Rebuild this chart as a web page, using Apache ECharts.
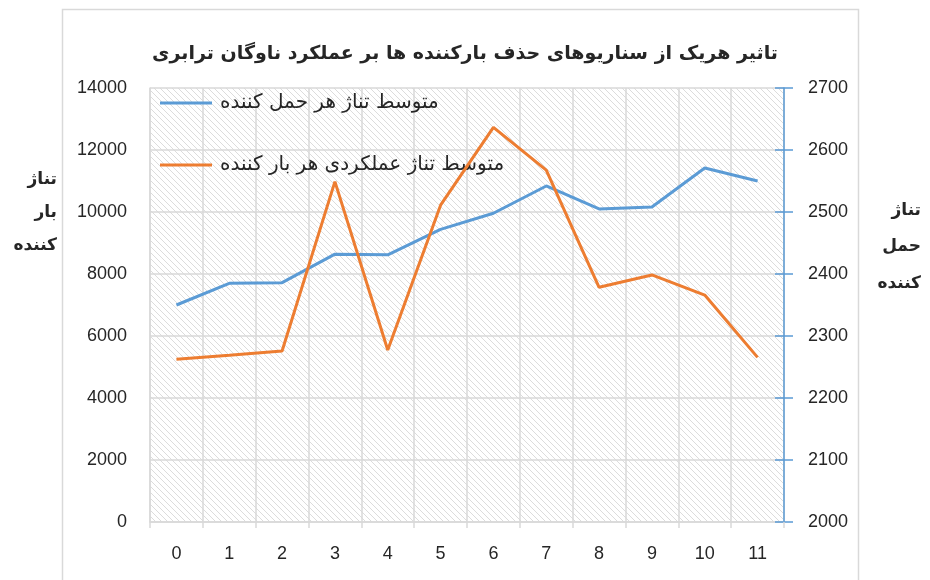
<!DOCTYPE html>
<html>
<head>
<meta charset="utf-8">
<script src="https://cdn.jsdelivr.net/npm/echarts@6/dist/echarts.min.js"></script>
<style>
  html, body { margin: 0; padding: 0; background: #fff; }
  #chart { width: 930px; height: 580px; }
</style>
</head>
<body>
<div id="chart"></div>
<script>
const categories = ['0', '1', '2', '3', '4', '5', '6', '7', '8', '9', '10', '11']
// متوسط تناژ هر حمل کننده (محور راست)
const perHaulerValues = [2350, 2385, 2386, 2432, 2431, 2472, 2498, 2542, 2505, 2508, 2571, 2550]
// متوسط تناژ عملکردی هر بار کننده (محور چپ)
const perLoaderValues = [5250, 5380, 5516, 10980, 5550, 10220, 12730, 11350, 7570, 7970, 7320, 5310]

const titleText = 'تاثیر هریک از سناریوهای حذف بارکننده ها بر عملکرد ناوگان ترابری'
const haulerName = 'متوسط تناژ هر حمل کننده'
const loaderName = 'متوسط تناژ عملکردی هر بار کننده'
const leftAxisName = 'تناژ\nبار\nکننده'
const rightAxisName = 'تناژ\nحمل\nکننده'

const blue = '#5b9bd5'
const orange = '#ed7d31'
const gridColor = '#d9d9d9'
const numFont = 'Liberation Sans'
const faFont = 'DejaVu Sans'

function makeHatch() {
  const size = 6
  const c = document.createElement('canvas')
  c.width = size
  c.height = size
  const ctx = c.getContext('2d')
  ctx.fillStyle = '#fff'
  ctx.fillRect(0, 0, size, size)
  ctx.strokeStyle = '#dcdcdc'
  ctx.lineWidth = 1
  ctx.beginPath()
  ctx.moveTo(-1, -1)
  ctx.lineTo(size + 1, size + 1)
  ctx.moveTo(-1, size - 1)
  ctx.lineTo(1, size + 1)
  ctx.moveTo(size - 1, -1)
  ctx.lineTo(size + 1, 1)
  ctx.stroke()
  return c
}

const plainNumber = (v) => String(v)

const chart = echarts.init(document.getElementById('chart'))

chart.setOption({
  animation: false,
  backgroundColor: '#fff',
  title: [
    {
      text: titleText,
      left: 'center',
      top: 40,
      textStyle: { fontFamily: faFont, fontSize: 19, fontWeight: 'bold', color: '#262626' }
    },
    {
      text: leftAxisName,
      left: 57,
      top: 163,
      padding: 0,
      textAlign: 'right',
      textStyle: { fontFamily: faFont, fontSize: 17, fontWeight: 'bold', color: '#262626', lineHeight: 33, align: 'right' }
    },
    {
      text: rightAxisName,
      left: 921,
      top: 192,
      padding: 0,
      textAlign: 'right',
      textStyle: { fontFamily: faFont, fontSize: 17, fontWeight: 'bold', color: '#262626', lineHeight: 36.5, align: 'right' }
    }
  ],
  graphic: [
    {
      type: 'rect',
      silent: true,
      shape: { x: 62.5, y: 9.5, width: 796, height: 600 },
      style: { fill: null, stroke: gridColor, lineWidth: 1.5 }
    }
  ],
  legend: {
    orient: 'vertical',
    left: 160,
    top: 93,
    padding: 0,
    icon: 'rect',
    itemWidth: 52,
    itemHeight: 3,
    itemGap: 42,
    textStyle: { fontFamily: faFont, fontSize: 20, color: '#262626', padding: [0, 0, 0, 3] },
    data: [haulerName, loaderName]
  },
  grid: {
    left: 150,
    right: 146,
    top: 88,
    bottom: 58,
    show: true,
    borderWidth: 0,
    backgroundColor: { image: makeHatch(), repeat: 'repeat' }
  },
  xAxis: {
    type: 'category',
    data: categories,
    boundaryGap: true,
    axisLine: { lineStyle: { color: gridColor, width: 1.5 } },
    axisTick: { show: true, length: 6, interval: 0, lineStyle: { color: gridColor, width: 1.5 } },
    axisLabel: { margin: 23, fontFamily: numFont, fontSize: 18, color: '#262626' },
    splitLine: { show: true, interval: 0, lineStyle: { color: gridColor, width: 1.5 } }
  },
  yAxis: [
    {
      type: 'value',
      position: 'left',
      min: 0,
      max: 14000,
      interval: 2000,
      axisLine: { show: true, lineStyle: { color: gridColor, width: 1.5 } },
      axisTick: { show: false },
      axisLabel: { margin: 23, fontFamily: numFont, fontSize: 18, color: '#262626', formatter: plainNumber },
      splitLine: { show: true, lineStyle: { color: gridColor, width: 1.5 } }
    },
    {
      type: 'value',
      position: 'right',
      min: 2000,
      max: 2700,
      interval: 100,
      axisLine: { show: true, lineStyle: { color: blue, width: 1.5 } },
      axisTick: { show: true, length: 9, lineStyle: { color: blue, width: 1.5 } },
      axisLabel: { margin: 24, fontFamily: numFont, fontSize: 18, color: '#262626', formatter: plainNumber },
      splitLine: { show: false }
    },
    {
      // inner half of the cross tick marks on the right axis
      type: 'value',
      position: 'right',
      min: 2000,
      max: 2700,
      interval: 100,
      axisLine: { show: false },
      axisTick: { show: true, inside: true, length: 9, lineStyle: { color: blue, width: 1.5 } },
      axisLabel: { show: false },
      splitLine: { show: false }
    }
  ],
  series: [
    {
      name: haulerName,
      type: 'line',
      yAxisIndex: 1,
      data: perHaulerValues,
      symbol: 'none',
      itemStyle: { color: blue },
      lineStyle: { color: blue, width: 3 },
      z: 3
    },
    {
      name: loaderName,
      type: 'line',
      yAxisIndex: 0,
      data: perLoaderValues,
      symbol: 'none',
      itemStyle: { color: orange },
      lineStyle: { color: orange, width: 3 },
      z: 4
    }
  ]
})
</script>
</body>
</html>
